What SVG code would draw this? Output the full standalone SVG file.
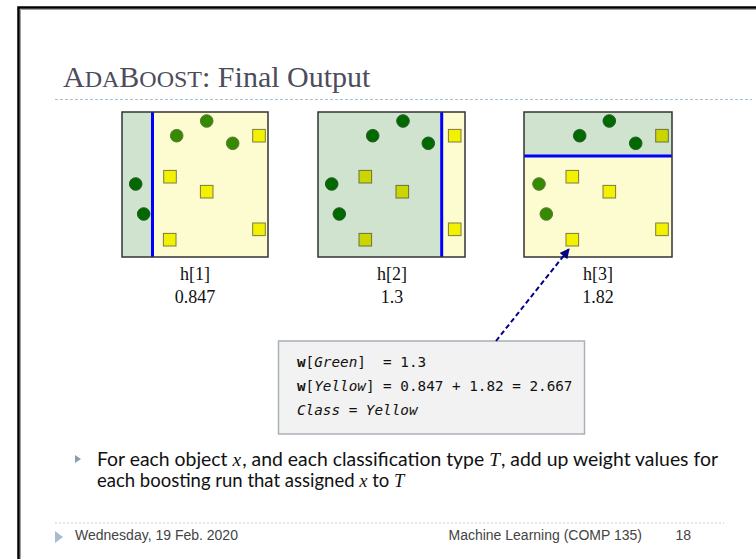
<svg xmlns="http://www.w3.org/2000/svg" width="756" height="559" viewBox="0 0 756 559">
  <style>
    .frame { fill: none; stroke: #333333; stroke-width: 1.5; }
    .gfill { fill: #cfe3cf; }
    .yfill { fill: #fdfbd0; }
    .split { stroke: #0000ff; stroke-width: 3; }
    .dk { fill: #006a00; stroke: #2b5a2b; stroke-width: 1; }
    .lt { fill: #358a00; stroke: #5a7a3a; stroke-width: 1; }
    .sqy { fill: #f2f200; stroke: #7d7d40; stroke-width: 1; }
    .sqg { fill: #cbd600; stroke: #6d7040; stroke-width: 1; }
    .lbl { font-family: "Liberation Serif", serif; font-size: 18px; fill: #111111; text-anchor: middle; }
    .mono { font-family: "DejaVu Sans Mono", "Liberation Mono", monospace; font-size: 14.3px; fill: #111111; }
    .foot { font-family: "Liberation Sans", Arial, sans-serif; font-size: 14px; fill: #444444; }
    .body { font-family: Lato, "Open Sans", sans-serif; font-size: 18.5px; fill: #111111; }
    .var { font-family: "Liberation Serif", serif; font-style: italic; }
  </style>
  <defs>
    <marker id="arrowhead" viewBox="0 0 10 10" refX="9" refY="5" markerWidth="5" markerHeight="5" orient="auto">
      <path d="M0,0 L10,5 L0,10 z" fill="#00008b"/>
    </marker>
  </defs>

  <!-- page frame -->
  <rect x="0" y="0" width="756" height="559" fill="#ffffff"/>
  <path d="M18.5,570 V7.5 H770" fill="none" stroke="#000000" stroke-width="2.5"/>
  <path d="M20.5,570 V9.5 H770" fill="none" stroke="#a0a0a0" stroke-width="1"/>

  <!-- title -->
  <text x="63" y="87" font-family="Liberation Serif, serif" font-size="30" fill="#4c4c5c">A<tspan font-size="24">DA</tspan>B<tspan font-size="24">OOST</tspan>: Final Output</text>
  <line x1="55" y1="99.5" x2="752" y2="99.5" stroke="#a9bfd2" stroke-width="1" stroke-dasharray="3 2"/>

  <!-- hypothesis 1: vertical split near the left -->
  <g id="h1">
    <rect x="122" y="112" width="30" height="145" class="gfill"/>
    <rect x="152" y="112" width="116" height="145" class="yfill"/>
    <line x1="152.5" y1="112" x2="152.5" y2="257" class="split"/>
    <rect x="122" y="112" width="146" height="145" class="frame"/>
    <circle cx="206.7" cy="121" r="6.3" class="lt"/>
    <circle cx="176.7" cy="135.7" r="6.3" class="lt"/>
    <circle cx="232.7" cy="143.3" r="6.3" class="lt"/>
    <circle cx="135.7" cy="184" r="6.3" class="dk"/>
    <circle cx="143.7" cy="214" r="6.3" class="dk"/>
    <rect x="252.7" y="129.4" width="12.6" height="12.6" class="sqy"/>
    <rect x="163.7" y="170.4" width="12.6" height="12.6" class="sqy"/>
    <rect x="200.4" y="185.4" width="12.6" height="12.6" class="sqy"/>
    <rect x="252.7" y="223" width="12.6" height="12.6" class="sqy"/>
    <rect x="163.4" y="233.4" width="12.6" height="12.6" class="sqy"/>
    <text x="195" y="280" class="lbl">h[1]</text>
    <text x="195" y="303" class="lbl">0.847</text>
  </g>

  <!-- hypothesis 2: vertical split near the right -->
  <g id="h2">
    <rect x="318" y="112" width="124" height="145" class="gfill"/>
    <rect x="442" y="112" width="23" height="145" class="yfill"/>
    <line x1="441.7" y1="112" x2="441.7" y2="257" class="split"/>
    <rect x="318" y="112" width="147" height="145" class="frame"/>
    <circle cx="403" cy="121" r="6.3" class="dk"/>
    <circle cx="372.7" cy="135.7" r="6.3" class="dk"/>
    <circle cx="428.3" cy="143.3" r="6.3" class="dk"/>
    <circle cx="331.7" cy="184" r="6.3" class="dk"/>
    <circle cx="339.3" cy="214" r="6.3" class="dk"/>
    <rect x="448.4" y="129.4" width="12.6" height="12.6" class="sqy"/>
    <rect x="359" y="170.4" width="12.6" height="12.6" class="sqg"/>
    <rect x="396" y="185.4" width="12.6" height="12.6" class="sqg"/>
    <rect x="448.4" y="223" width="12.6" height="12.6" class="sqy"/>
    <rect x="359" y="233.4" width="12.6" height="12.6" class="sqg"/>
    <text x="392" y="280" class="lbl">h[2]</text>
    <text x="392" y="303" class="lbl">1.3</text>
  </g>

  <!-- hypothesis 3: horizontal split near the top -->
  <g id="h3">
    <rect x="524" y="112" width="148" height="44" class="gfill"/>
    <rect x="524" y="156" width="148" height="101" class="yfill"/>
    <line x1="524" y1="156" x2="672" y2="156" class="split"/>
    <rect x="524" y="112" width="148" height="145" class="frame"/>
    <circle cx="609.3" cy="121" r="6.3" class="dk"/>
    <circle cx="579.7" cy="135.7" r="6.3" class="dk"/>
    <circle cx="635.7" cy="143.3" r="6.3" class="dk"/>
    <circle cx="539" cy="184" r="6.3" class="lt"/>
    <circle cx="546.3" cy="214" r="6.3" class="lt"/>
    <rect x="655.7" y="129.4" width="12.6" height="12.6" class="sqg"/>
    <rect x="566" y="170.4" width="12.6" height="12.6" class="sqy"/>
    <rect x="603" y="185.4" width="12.6" height="12.6" class="sqy"/>
    <rect x="655.7" y="223" width="12.6" height="12.6" class="sqy"/>
    <rect x="566" y="233.4" width="12.6" height="12.6" class="sqy"/>
    <text x="598" y="280" class="lbl">h[3]</text>
    <text x="598" y="303" class="lbl">1.82</text>
  </g>

  <!-- weighted vote summary -->
  <g id="summary">
    <rect x="278.5" y="341" width="306" height="93" fill="#f2f2f2" stroke="#a8b0b8" stroke-width="1.5"/>
    <text x="297" y="367" class="mono" xml:space="preserve"><tspan font-weight="bold">w</tspan>[<tspan font-style="italic">Green</tspan>]  = 1.3</text>
    <text x="297" y="391" class="mono" xml:space="preserve"><tspan font-weight="bold">w</tspan>[<tspan font-style="italic">Yellow</tspan>] = 0.847 + 1.82 = 2.667</text>
    <text x="297" y="415" class="mono" font-style="italic">Class = Yellow</text>
  </g>

  <!-- connector -->
  <g id="connectors">
    <line x1="496" y1="341" x2="569" y2="249" stroke="#00008b" stroke-width="2" stroke-dasharray="5 3" marker-end="url(#arrowhead)"/>
  </g>

  <!-- bullet -->
  <path d="M75,455 L81,459 L75,463 z" fill="#8a9bb0"/>
  <text class="body"><tspan x="97" y="466" textLength="621" lengthAdjust="spacingAndGlyphs">For each object <tspan class="var">x</tspan><tspan dx="1">, and each classification type </tspan><tspan class="var">T</tspan><tspan dx="1">, add up weight values for</tspan></tspan><tspan x="97" y="487">each boosting run that assigned <tspan class="var">x</tspan> to <tspan class="var">T</tspan></tspan></text>

  <!-- footer -->
  <line x1="55" y1="523" x2="724" y2="523" stroke="#c0d0dc" stroke-width="1" stroke-dasharray="2 2"/>
  <path d="M55,531 L63,537 L55,543 z" fill="#a6bccf"/>
  <text x="75" y="540" class="foot">Wednesday, 19 Feb. 2020</text>
  <text x="642" y="540" class="foot" text-anchor="end">Machine Learning (COMP 135)</text>
  <text x="691" y="540" class="foot" text-anchor="end">18</text>
</svg>
